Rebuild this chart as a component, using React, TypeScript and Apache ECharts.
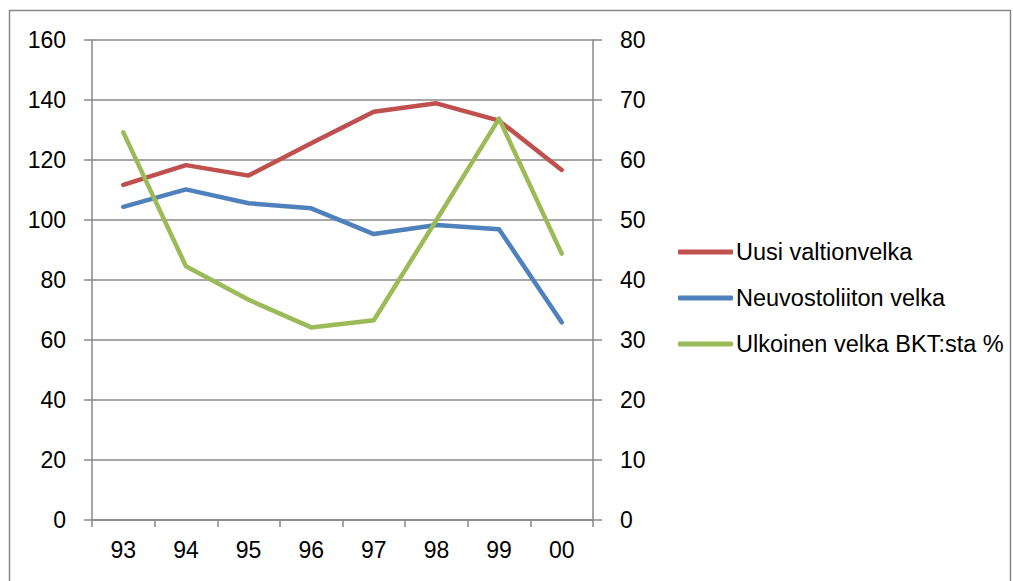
import React, { useEffect, useRef } from "react";
import * as echarts from "echarts";

const years = ["93", "94", "95", "96", "97", "98", "99", "00"];
const uusiValtionvelka = [111.7, 118.3, 114.8, 125.6, 136.1, 138.9, 133.1, 116.7];
const neuvostoliitonVelka = [104.4, 110.2, 105.6, 103.9, 95.3, 98.3, 96.9, 65.9];
const ulkoinenVelkaBkt = [64.6, 42.3, 36.7, 32.1, 33.3, 50.0, 66.9, 44.4];

const FONT = "'Liberation Sans', Arial, sans-serif";
const GRID_COLOR = "#888888";

export default function App() {
  const ref = useRef<HTMLDivElement>(null);

  useEffect(() => {
    if (!ref.current) return;
    const chart = echarts.init(ref.current, undefined, { renderer: "svg" });
    const lineSeries = (name: string, data: number[], color: string, yAxisIndex: number) => ({
      name,
      type: "line",
      data,
      yAxisIndex,
      symbol: "none",
      color,
      lineStyle: { color, width: 4.5, cap: "round", join: "round" },
    });
    chart.setOption({
      animation: false,
      backgroundColor: "#ffffff",
      textStyle: { fontFamily: FONT },
      grid: { left: 92, right: 420, top: 40, bottom: 61 },
      graphic: [
        {
          type: "rect",
          shape: { x: 9.5, y: 10.5, width: 1001, height: 620 },
          style: { fill: "none", stroke: GRID_COLOR, lineWidth: 1.5 },
          silent: true,
        },
      ],
      legend: {
        orient: "vertical",
        left: 673,
        top: 235,
        itemWidth: 55,
        itemHeight: 5,
        itemGap: 22,
        icon: "roundRect",
        textStyle: { fontFamily: FONT, fontSize: 23.5, color: "#000000", padding: [0, 0, 0, -2] },
      },
      xAxis: {
        type: "category",
        data: years,
        boundaryGap: true,
        axisLine: { lineStyle: { color: GRID_COLOR, width: 1.5 } },
        axisTick: { show: true, length: 7, lineStyle: { color: GRID_COLOR, width: 1.5 } },
        axisLabel: { fontFamily: FONT, fontSize: 23, color: "#000000", margin: 18 },
      },
      yAxis: [
        {
          type: "value",
          min: 0,
          max: 160,
          interval: 20,
          axisLine: { show: true, lineStyle: { color: GRID_COLOR, width: 1.5 } },
          axisTick: { show: true, length: 8, lineStyle: { color: GRID_COLOR, width: 1.5 } },
          splitLine: { show: true, lineStyle: { color: GRID_COLOR, width: 1.5 } },
          axisLabel: { fontFamily: FONT, fontSize: 23, color: "#000000", margin: 26 },
        },
        {
          type: "value",
          min: 0,
          max: 80,
          interval: 10,
          position: "right",
          axisLine: { show: true, lineStyle: { color: GRID_COLOR, width: 1.5 } },
          axisTick: { show: true, length: 9, lineStyle: { color: GRID_COLOR, width: 1.5 } },
          splitLine: { show: false },
          axisLabel: { fontFamily: FONT, fontSize: 23, color: "#000000", margin: 27 },
        },
      ],
      series: [
        lineSeries("Uusi valtionvelka", uusiValtionvelka, "#C0504D", 0),
        lineSeries("Neuvostoliiton velka", neuvostoliitonVelka, "#4F81BD", 0),
        lineSeries("Ulkoinen velka BKT:sta %", ulkoinenVelkaBkt, "#9BBB59", 1),
      ],
    });
    return () => chart.dispose();
  }, []);

  return (
    <div
      ref={ref}
      style={{ position: "fixed", left: 0, top: 0, width: 1013, height: 581, background: "#fff" }}
    />
  );
}
